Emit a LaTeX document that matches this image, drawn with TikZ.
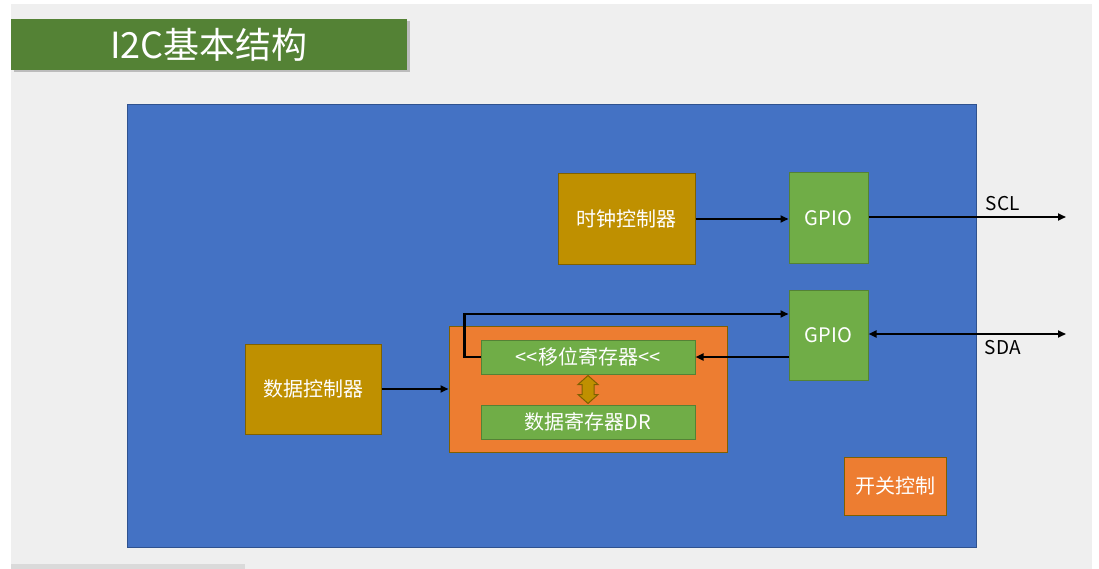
\documentclass[tikz,border=0pt]{standalone}
\usepackage{fontspec}
\setmainfont{Noto Sans CJK SC}
\usetikzlibrary{arrows.meta, positioning, calc, shadows}

\definecolor{pagegray}{HTML}{EFEFEF}
\definecolor{scrollgray}{HTML}{DADADA}
\definecolor{titlegreen}{HTML}{548235}
\definecolor{chipblue}{HTML}{4472C4}
\definecolor{bluedark}{HTML}{2F528F}
\definecolor{gold}{HTML}{BF9000}
\definecolor{golddark}{HTML}{7F6000}
\definecolor{gpiogreen}{HTML}{70AD47}
\definecolor{greendark}{HTML}{548235}
\definecolor{unitorange}{HTML}{ED7D31}

\begin{document}
\begin{tikzpicture}[x=1pt, y=-1pt,
  box/.style={draw, line width=1pt, minimum width=136pt, minimum height=90pt, align=center, text=white, inner sep=0pt, font=\fontsize{20}{24}\selectfont},
  ctrl/.style={box, fill=gold, draw=golddark},
  gpio/.style={box, fill=gpiogreen, draw=greendark, minimum width=79pt},
  regbox/.style={box, fill=gpiogreen, draw=greendark, minimum width=214pt, minimum height=34pt},
  sig/.style={-{Triangle[length=8pt,width=7pt]}, line width=2.4pt},
  siglabel/.style={font=\fontsize{19}{22}\selectfont, text=black}]
  \useasboundingbox (0,0) rectangle (1099,569);
  \fill[white] (0,0) rectangle (1099,569);
  \fill[pagegray] (11,4) rectangle (1092,569);
  \fill[scrollgray] (11,564) rectangle (245,569);

  % title
  \node (title) [fill=titlegreen, minimum width=396pt, minimum height=51pt, text=white, inner sep=0pt,
    font=\fontsize{36}{40}\selectfont, drop shadow={shadow xshift=2.5pt, shadow yshift=-2.5pt, opacity=0.45}] at (209,44.5) {I2C基本结构};

  % chip
  \node (chip) [fill=chipblue, draw=bluedark, line width=1pt, minimum width=849pt, minimum height=442pt] at (551.5,326) {};

  \node (clk) [ctrl, minimum width=137pt] at (626.5,219) {时钟控制器};
  \node (gpioA) [gpio, right=93pt of clk, yshift=1pt] {GPIO};
  \node (gpioB) [gpio, below=26pt of gpioA] {GPIO};
  \node (unit) [box, fill=unitorange, draw=golddark, minimum width=278pt, minimum height=126pt] at (588,389) {};
  \node (shift) [regbox, below=14pt of unit.north] {<{}<移位寄存器<{}<};
  \node (dr) [regbox, below=30pt of shift] {数据寄存器DR};
  \node (datactl) [ctrl, left=67pt of unit] {数据控制器};
  \node (sw) [box, fill=unitorange, draw=golddark, minimum width=102pt, minimum height=58pt] at (895,486) {开关控制};

  \coordinate (swap) at ($(shift.south)!0.5!(dr.north)$);
  \coordinate (scl) at (1066,217);
  \coordinate (sda) at (1066,334);

  % shift <-> data register
  \filldraw[fill=gold, draw=golddark, line width=1pt] ([yshift=14pt]swap) -- ++(10,9) -- ++(-4,0) -- ++(0,10) -- ++(4,0)
    -- ++(-10,9) -- ++(-10,-9) -- ++(4,0) -- ++(0,-10) -- ++(-4,0) -- cycle;

  % connections
  \draw[sig] (datactl) -- (unit);
  \draw[sig] (clk) -- (clk -| gpioA.west);
  \draw[sig] (gpioA.east |- scl) -- (scl) node[siglabel, above=2pt, pos=0.68] {SCL};
  \draw[sig, {Triangle[length=8pt,width=7pt]}-{Triangle[length=8pt,width=7pt]}] (gpioB.east |- sda) -- (sda) node[siglabel, below=2pt, pos=0.68] {SDA};
  \draw[sig] (gpioB.west |- shift.east) -- (shift.east);
  \draw[sig] (shift.west) -- ++(-16,0) |- ([yshift=21pt]gpioB.west);
\end{tikzpicture}
\end{document}
